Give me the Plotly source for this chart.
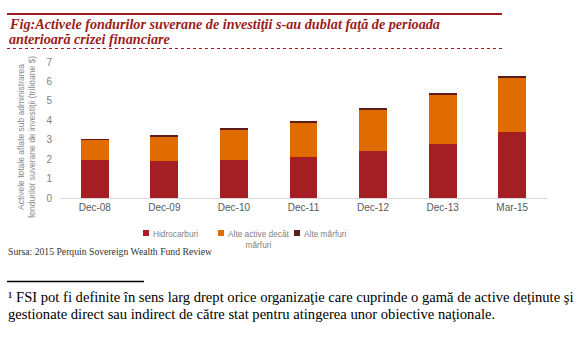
import plotly.graph_objects as go

categories = ["Dec-08", "Dec-09", "Dec-10", "Dec-11", "Dec-12", "Dec-13", "Mar-15"]
hidrocarburi = [1.98, 1.90, 1.98, 2.09, 2.40, 2.76, 3.41]
alte_active = [1.02, 1.26, 1.56, 1.80, 2.17, 2.56, 2.77]
alte_marfuri = [0.03, 0.05, 0.03, 0.04, 0.04, 0.05, 0.12]
y_ticks = [0, 1, 2, 3, 4, 5, 6, 7]

series_names = ["Hidrocarburi", "Alte active decât<br>mărfuri", "Alte mărfuri"]
series_colors = ["#a31f24", "#e06c00", "#5e1c1e"]
series_values = [hidrocarburi, alte_active, alte_marfuri]

W, H = 577, 340
L, R, T, B = 60, 30, 62, 142
pw, ph = W - L - R, H - T - B

def px(x):
    return (x - L) / pw

def py(y):
    return (H - B - y) / ph

fig = go.Figure()
for name, color, vals in zip(series_names, series_colors, series_values):
    fig.add_trace(go.Bar(x=categories, y=vals, name=name, marker_color=color,
                         marker_line_width=0, showlegend=False))

fig.update_layout(
    width=W, height=H, barmode="stack", bargap=0.6,
    margin=dict(l=L, r=R, t=T, b=B, pad=0),
    paper_bgcolor="white", plot_bgcolor="white",
    font=dict(family="Liberation Sans, Arial, sans-serif", size=10, color="#595959"),
    xaxis=dict(showgrid=False, showline=True, linecolor="#d9d9d9", linewidth=1,
               ticks="", tickfont=dict(size=10, color="#595959")),
    yaxis=dict(range=[0, 7], tickvals=y_ticks, showgrid=False, zeroline=False,
               showline=False, ticks="outside", ticklen=5, tickcolor="rgba(0,0,0,0)",
               tickfont=dict(size=10, color="#7f7f7f")),
)

# Y axis title
fig.add_annotation(text="Activele totale aflate sub administrarea<br>fondurilor suverane de investiţii (trilioane $)",
                   xref="paper", yref="paper", x=px(26), y=py(137), textangle=-90,
                   xanchor="center", yanchor="middle",
                   showarrow=False, font=dict(size=8.5, color="#8c8c8c"), align="center")

# Title
title_font = dict(family="Liberation Serif, DejaVu Serif, serif", size=14.2, color="#9b1c20")
fig.add_annotation(text="<b><i>Fig:Activele fondurilor suverane de investiţii s-au dublat faţă de perioada</i></b>",
                   xref="paper", yref="paper", x=px(7), y=py(24), xanchor="left", yanchor="middle",
                   showarrow=False, font=title_font)
fig.add_annotation(text="<b><i>anterioară crizei financiare</i></b>",
                   xref="paper", yref="paper", x=px(7), y=py(39), xanchor="left", yanchor="middle",
                   showarrow=False, font=title_font)
fig.add_shape(type="line", xref="paper", yref="paper", x0=px(7), x1=px(502), y0=py(14), y1=py(14),
              line=dict(color="#9b1c20", width=2))
fig.add_shape(type="line", xref="paper", yref="paper", x0=px(7), x1=px(502), y0=py(48.5), y1=py(48.5),
              line=dict(color="#9b1c20", width=1, dash="dot"))

# Manual legend
leg_x = [146, 221, 297]
leg_y = 233
for xs, name, color in zip(leg_x, series_names, series_colors):
    fig.add_shape(type="rect", xref="paper", yref="paper",
                  x0=px(xs - 3), x1=px(xs + 3), y0=py(leg_y + 3), y1=py(leg_y - 3),
                  fillcolor=color, line_width=0)
    fig.add_annotation(text=name, xref="paper", yref="paper", x=px(xs + 5), y=py(leg_y - 6),
                       xanchor="left", yanchor="top", showarrow=False, align="center",
                       font=dict(size=8.3, color="#7f7f7f"))

# Source
fig.add_annotation(text="Sursa: 2015 Perquin Sovereign Wealth Fund Review",
                   xref="paper", yref="paper", x=px(6), y=py(251.5), xanchor="left", yanchor="middle",
                   showarrow=False, font=dict(family="Liberation Serif, serif", size=9.7, color="#333333"))

# Footnote
fig.add_shape(type="line", xref="paper", yref="paper", x0=px(7), x1=px(144), y0=py(281.5), y1=py(281.5),
              line=dict(color="black", width=1.5))
foot_font = dict(family="Liberation Serif, serif", size=14.6, color="black")
fig.add_annotation(text="¹ FSI pot fi definite în sens larg drept orice organizaţie care cuprinde o gamă de active deţinute şi",
                   xref="paper", yref="paper", x=px(6), y=py(297), xanchor="left", yanchor="middle",
                   showarrow=False, font=foot_font)
fig.add_annotation(text="gestionate direct sau indirect de către stat pentru atingerea unor obiective naţionale.",
                   xref="paper", yref="paper", x=px(6), y=py(314), xanchor="left", yanchor="middle",
                   showarrow=False, font=foot_font)

fig.write_html("out.html")
